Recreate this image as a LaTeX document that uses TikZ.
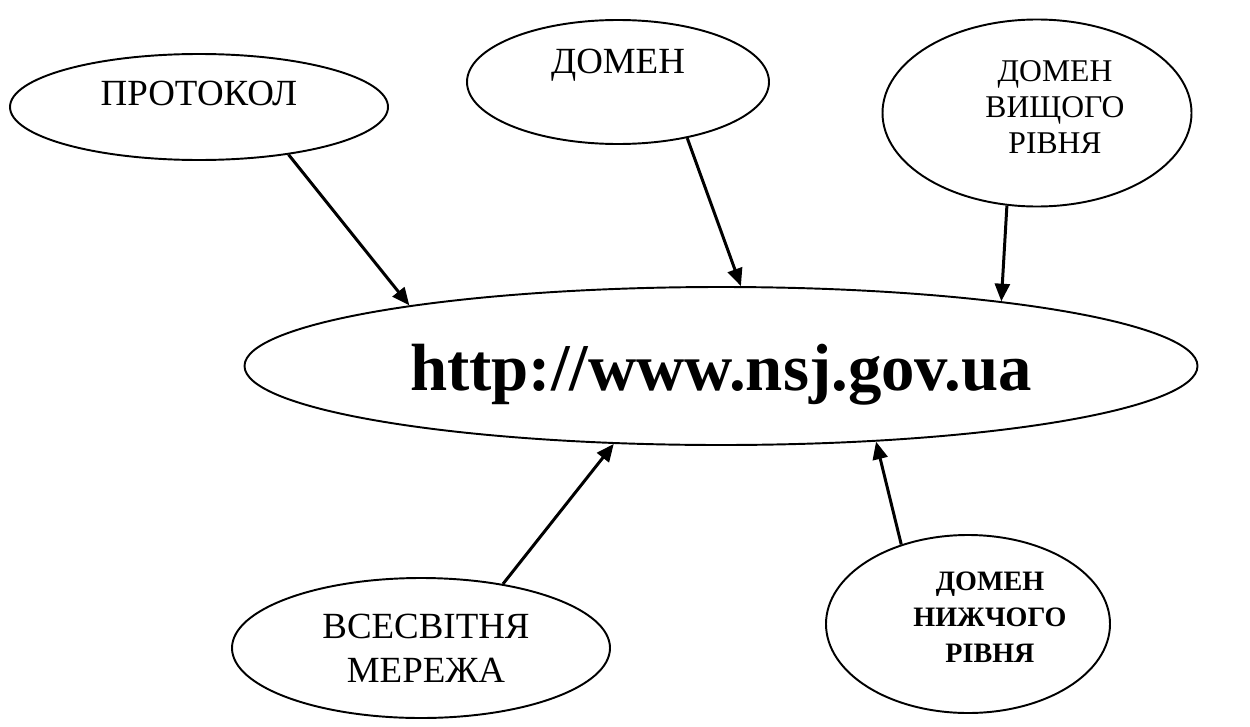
\documentclass[tikz,border=0pt]{standalone}
\usepackage{fontspec}
\setmainfont{Liberation Serif}
\usetikzlibrary{shapes.geometric,arrows.meta}
\tikzset{
  oval/.style={ellipse, draw, line width=1.1pt, inner sep=0pt},
  lbl/.style={anchor=base, align=center, font=\fontsize{21}{25}\selectfont},
  pointer/.style={-{Triangle[length=10pt,width=8.5pt]}, line width=1.7pt},
}
\begin{document}
\begin{tikzpicture}
	\useasboundingbox (0, 0) rectangle (25, -14.52);

	% ovals
	\node (proto) [oval, minimum width=7.56cm, minimum height=2.12cm] at (3.98, -2.14) {};
	\node (domain) [oval, minimum width=6.04cm, minimum height=2.48cm] at (12.36, -1.64) {};
	\node (top) [oval, minimum width=6.18cm, minimum height=3.74cm] at (20.74, -2.26) {};
	\node (url) [oval, minimum width=19.06cm, minimum height=3.16cm] at (14.42, -7.32) {};
	\node (web) [oval, minimum width=7.56cm, minimum height=2.8cm] at (8.42, -12.96) {};
	\node (low) [oval, minimum width=5.68cm, minimum height=3.56cm] at (19.36, -12.48) {};

	% texts (base = last line)
	\node (proto-t) [lbl] at (3.98, -2.10) {ПРОТОКОЛ};
	\node (domain-t) [lbl] at (12.36, -1.46) {ДОМЕН};
	\node (top-t) [lbl, font=\fontsize{18}{20.4}\selectfont] at (21.1, -3.06) {ДОМЕН\\ВИЩОГО\\РІВНЯ};
	\node (url-t) [lbl, font=\fontsize{38}{40}\selectfont\bfseries] at (14.42, -7.8) {http://www.nsj.gov.ua};
	\node (web-t) [lbl] at (8.52, -13.64) {ВСЕСВІТНЯ\\МЕРЕЖА};
	\node (low-t) [lbl, font=\fontsize{16}{20.4}\selectfont\bfseries] at (19.8, -13.24) {ДОМЕН\\НИЖЧОГО\\РІВНЯ};

	% arrows
	\draw [pointer] (proto.-28) -- (url.169.5);
	\draw [pointer] (domain.-39) -- (url.76);
	\draw [pointer] (top.-108) -- (url.13);
	\draw [pointer] (web.38) -- (url.-144);
	\draw [pointer] (low.130) -- (url.-26);
\end{tikzpicture}
\end{document}
